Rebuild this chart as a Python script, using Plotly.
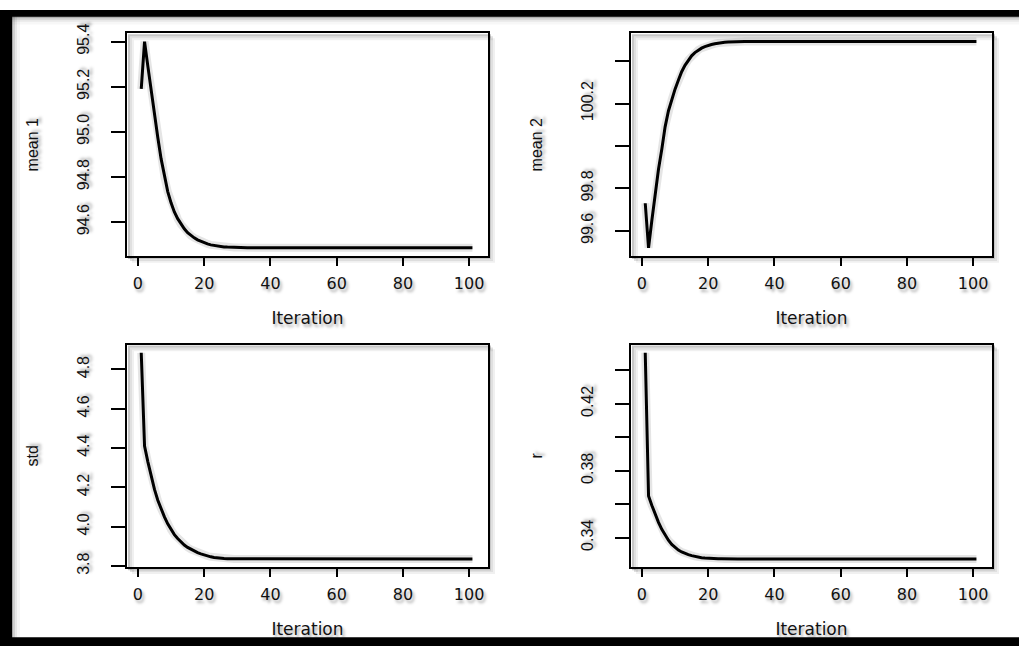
import plotly.graph_objects as go

# ---------------- data ----------------
iteration = list(range(1, 102))

mean1 = [95.19, 95.40, 95.29, 95.18, 95.075, 94.975, 94.88, 94.80, 94.735, 94.685,
         94.645, 94.615, 94.59, 94.57, 94.553, 94.54, 94.53, 94.521, 94.514, 94.508,
         94.503, 94.499, 94.496, 94.493, 94.491, 94.49, 94.489, 94.488, 94.487, 94.487,
         94.486, 94.486, 94.486, 94.486, 94.486, 94.486, 94.486, 94.486, 94.486, 94.486,
         94.486, 94.486, 94.486, 94.486, 94.486, 94.486, 94.486, 94.486, 94.486, 94.486,
         94.486, 94.486, 94.486, 94.486, 94.486, 94.486, 94.486, 94.486, 94.486, 94.486,
         94.486, 94.486, 94.486, 94.486, 94.486, 94.486, 94.486, 94.486, 94.486, 94.486,
         94.486, 94.486, 94.486, 94.486, 94.486, 94.486, 94.486, 94.486, 94.486, 94.486,
         94.486, 94.486, 94.486, 94.486, 94.486, 94.486, 94.486, 94.486, 94.486, 94.486,
         94.486, 94.486, 94.486, 94.486, 94.486, 94.486, 94.486, 94.486, 94.486, 94.486,
         94.486]

mean2 = [99.73, 99.52, 99.65, 99.78, 99.89, 99.985, 100.09, 100.165, 100.22, 100.268,
         100.31, 100.35, 100.38, 100.405, 100.425, 100.44, 100.452, 100.461, 100.468, 100.474,
         100.478, 100.482, 100.485, 100.487, 100.489, 100.49, 100.491, 100.491, 100.492, 100.492,
         100.492, 100.492, 100.492, 100.492, 100.492, 100.492, 100.492, 100.492, 100.492, 100.492,
         100.492, 100.492, 100.492, 100.492, 100.492, 100.492, 100.492, 100.492, 100.492, 100.492,
         100.492, 100.492, 100.492, 100.492, 100.492, 100.492, 100.492, 100.492, 100.492, 100.492,
         100.492, 100.492, 100.492, 100.492, 100.492, 100.492, 100.492, 100.492, 100.492, 100.492,
         100.492, 100.492, 100.492, 100.492, 100.492, 100.492, 100.492, 100.492, 100.492, 100.492,
         100.492, 100.492, 100.492, 100.492, 100.492, 100.492, 100.492, 100.492, 100.492, 100.492,
         100.492, 100.492, 100.492, 100.492, 100.492, 100.492, 100.492, 100.492, 100.492, 100.492,
         100.492]

std = [4.885, 4.41, 4.33, 4.255, 4.19, 4.135, 4.09, 4.05, 4.015, 3.985,
       3.96, 3.94, 3.922, 3.907, 3.895, 3.885, 3.876, 3.868, 3.862, 3.856,
       3.851, 3.847, 3.844, 3.841, 3.839, 3.838, 3.837, 3.837, 3.836, 3.836,
       3.836, 3.836, 3.836, 3.836, 3.836, 3.836, 3.836, 3.836, 3.836, 3.836,
       3.836, 3.836, 3.836, 3.836, 3.836, 3.836, 3.836, 3.836, 3.836, 3.836,
       3.836, 3.836, 3.836, 3.836, 3.836, 3.836, 3.836, 3.836, 3.836, 3.836,
       3.836, 3.836, 3.836, 3.836, 3.836, 3.836, 3.836, 3.836, 3.836, 3.836,
       3.836, 3.836, 3.836, 3.836, 3.836, 3.836, 3.836, 3.836, 3.836, 3.836,
       3.836, 3.836, 3.836, 3.836, 3.836, 3.836, 3.836, 3.836, 3.836, 3.836,
       3.836, 3.836, 3.836, 3.836, 3.836, 3.836, 3.836, 3.836, 3.836, 3.836,
       3.836]

r = [0.4505, 0.365, 0.3593, 0.354, 0.3492, 0.345, 0.3415, 0.3385, 0.336, 0.334,
     0.3326, 0.3315, 0.3306, 0.3299, 0.3293, 0.3288, 0.3284, 0.3281, 0.3279, 0.3277,
     0.3276, 0.3275, 0.3274, 0.3274, 0.3273, 0.3273, 0.3273, 0.3273, 0.3273, 0.3273,
     0.3273, 0.3273, 0.3273, 0.3273, 0.3273, 0.3273, 0.3273, 0.3273, 0.3273, 0.3273,
     0.3273, 0.3273, 0.3273, 0.3273, 0.3273, 0.3273, 0.3273, 0.3273, 0.3273, 0.3273,
     0.3273, 0.3273, 0.3273, 0.3273, 0.3273, 0.3273, 0.3273, 0.3273, 0.3273, 0.3273,
     0.3273, 0.3273, 0.3273, 0.3273, 0.3273, 0.3273, 0.3273, 0.3273, 0.3273, 0.3273,
     0.3273, 0.3273, 0.3273, 0.3273, 0.3273, 0.3273, 0.3273, 0.3273, 0.3273, 0.3273,
     0.3273, 0.3273, 0.3273, 0.3273, 0.3273, 0.3273, 0.3273, 0.3273, 0.3273, 0.3273,
     0.3273, 0.3273, 0.3273, 0.3273, 0.3273, 0.3273, 0.3273, 0.3273, 0.3273, 0.3273,
     0.3273]

x_tickvals = [0, 20, 40, 60, 80, 100]
x_ticktext = ["0", "20", "40", "60", "80", "100"]

y1_tickvals = [94.6, 94.8, 95.0, 95.2, 95.4]
y1_ticktext = ["94.6", "94.8", "95.0", "95.2", "95.4"]
y2_tickvals = [99.6, 99.8, 100.0, 100.2, 100.4]
y2_ticktext = ["99.6", "99.8", "", "100.2", ""]
y3_tickvals = [3.8, 4.0, 4.2, 4.4, 4.6, 4.8]
y3_ticktext = ["3.8", "4.0", "4.2", "4.4", "4.6", "4.8"]
y4_tickvals = [0.34, 0.36, 0.38, 0.40, 0.42, 0.44]
y4_ticktext = ["0.34", "", "0.38", "", "0.42", ""]

series = [mean1, mean2, std, r]
ylabels = ["mean 1", "mean 2", "std", "r"]
yticks = [(y1_tickvals, y1_ticktext), (y2_tickvals, y2_ticktext),
          (y3_tickvals, y3_ticktext), (y4_tickvals, y4_ticktext)]

# ---------------- layout ----------------
W, H = 1019, 654
def px_x(v):
    return v / W
def px_y(v):
    return 1 - v / H

boxes = [(127, 488, 24, 253), (631, 992, 24, 253),
         (127, 488, 344, 573), (631, 992, 344, 573)]

SHADOW = "2px 3px 3px rgba(0,0,0,0.35)"
fig = go.Figure()

for i, (vals, lab, (tv, tt), (bx0, bx1, by0, by1)) in enumerate(zip(series, ylabels, yticks, boxes)):
    n = i + 1
    xa = "x" if n == 1 else f"x{n}"
    ya = "y" if n == 1 else f"y{n}"
    # soft halo under the line (drop-shadow look)
    fig.add_trace(go.Scatter(x=iteration, y=vals, mode="lines", xaxis=xa, yaxis=ya,
                             line=dict(color="rgba(0,0,0,0.10)", width=8),
                             hoverinfo="skip", showlegend=False))
    fig.add_trace(go.Scatter(x=iteration, y=vals, mode="lines", xaxis=xa, yaxis=ya,
                             line=dict(color="black", width=3),
                             showlegend=False, name=lab))
    lo, hi = min(vals), max(vals)
    pad = 0.04 * (hi - lo)
    xkey = "xaxis" if n == 1 else f"xaxis{n}"
    ykey = "yaxis" if n == 1 else f"yaxis{n}"
    fig.update_layout({
        xkey: dict(domain=[px_x(bx0), px_x(bx1)], anchor=ya, range=[-3.3, 105.7],
                   showgrid=False, zeroline=False, showline=True, mirror=True,
                   linecolor="black", linewidth=1.5,
                   ticks="outside", ticklen=8, tickwidth=2, tickcolor="black",
                   tickvals=x_tickvals, ticktext=x_ticktext,
                   tickfont=dict(family="DejaVu Sans", size=16, color="#111", shadow=SHADOW),
                   ticklabelstandoff=4,
                   title=dict(text="Iteration", standoff=20,
                              font=dict(family="DejaVu Sans", size=17, color="#111", shadow=SHADOW))),
        ykey: dict(domain=[px_y(by1), px_y(by0)], anchor=xa, range=[lo - pad, hi + pad],
                   showgrid=False, zeroline=False, showline=True, mirror=True,
                   linecolor="black", linewidth=1.5,
                   ticks="outside", ticklen=14, tickwidth=1.5, tickcolor="black",
                   tickvals=tv, ticktext=tt, tickangle=-90,
                   tickfont=dict(family="Liberation Sans", size=16, color="#111", shadow=SHADOW),
                   ticklabelstandoff=16,
                   title=dict(text=lab, standoff=32,
                              font=dict(family="Liberation Sans", size=16, color="#111", shadow=SHADOW))),
    })

shapes = []
# soft shadows of the plot boxes
for (bx0, bx1, by0, by1) in boxes:
    for k, op in [(2, 0.22), (4, 0.12), (6, 0.06)]:
        shapes.append(dict(type="rect", xref="paper", yref="paper", layer="below",
                           x0=px_x(bx0 + k), x1=px_x(bx1 + k), y0=px_y(by1 + k), y1=px_y(by0 + k),
                           line=dict(color=f"rgba(0,0,0,{op})", width=2), fillcolor="rgba(0,0,0,0)"))
# black frame with soft inner shadow
for k, op in [(1, 0.2), (3, 0.1), (5, 0.06), (8, 0.03)]:
    shapes.append(dict(type="rect", xref="paper", yref="paper", layer="below",
                       x0=0, x1=1, y0=px_y(7 + k), y1=1, line=dict(width=0),
                       fillcolor=f"rgba(0,0,0,{op})"))
    shapes.append(dict(type="rect", xref="paper", yref="paper", layer="below",
                       x0=0, x1=px_x(12 + k), y0=0, y1=1, line=dict(width=0),
                       fillcolor=f"rgba(0,0,0,{op})"))
shapes.append(dict(type="rect", xref="paper", yref="paper", layer="above",
                   x0=0, x1=1, y0=px_y(7), y1=1, line=dict(width=0), fillcolor="black"))
shapes.append(dict(type="rect", xref="paper", yref="paper", layer="above",
                   x0=0, x1=px_x(12), y0=0, y1=1, line=dict(width=0), fillcolor="black"))
shapes.append(dict(type="rect", xref="paper", yref="paper", layer="above",
                   x0=0, x1=1, y0=0, y1=px_y(645), line=dict(width=0), fillcolor="black"))

fig.update_layout(width=W, height=H, margin=dict(l=0, r=0, t=0, b=0),
                  paper_bgcolor="white", plot_bgcolor="rgba(0,0,0,0)",
                  showlegend=False, shapes=shapes)

fig.write_html("out.html")
